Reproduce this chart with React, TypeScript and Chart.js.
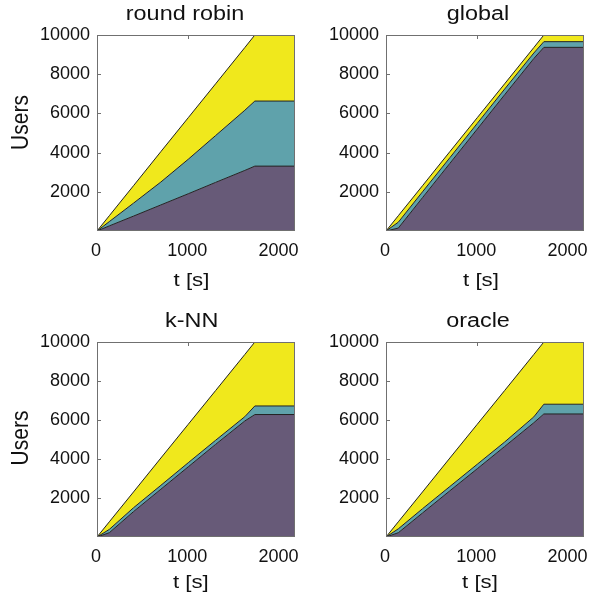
import React, { useEffect, useRef } from "react";
import { Chart, registerables } from "chart.js";

Chart.register(...registerables);

// ---------------- data ----------------
const TIME = [0, 135, 400, 700, 1000, 1300, 1620, 1730, 2170];
const X_MAX = 2170;
const X_TICKS = [0, 1000, 2000];
const Y_TICKS = [2000, 4000, 6000, 8000, 10000];
const Y_MAX = 10000;

const TITLES = ["round robin", "global", "k-NN", "oracle"];
const X_LABEL = "t [s]";
const Y_LABEL = "Users";

// round robin (stacked bands: bottom, middle, top)
const RR_PURPLE = [0, 260, 760, 1330, 1900, 2480, 3090, 3310, 3310];
const RR_TEAL = [0, 220, 660, 1170, 1760, 2390, 3070, 3320, 3320];
const RR_YELLOW = [0, 300, 890, 1550, 2120, 2640, 3200, 3370, 3370];

// global
const GL_PURPLE = [0, 150, 1700, 3450, 5200, 6950, 8800, 9370, 9370];
const GL_TEAL = [0, 300, 300, 290, 290, 290, 280, 290, 290];
const GL_YELLOW = [0, 330, 310, 310, 290, 270, 280, 340, 340];

// k-NN
const KNN_PURPLE = [0, 220, 1300, 2450, 3600, 4750, 5950, 6280, 6280];
const KNN_TEAL = [0, 170, 200, 200, 210, 210, 220, 440, 440];
const KNN_YELLOW = [0, 390, 810, 1400, 1970, 2550, 3190, 3280, 3280];

// oracle
const OR_PURPLE = [0, 220, 1230, 2370, 3500, 4640, 5860, 6310, 6310];
const OR_TEAL = [0, 200, 220, 220, 230, 230, 300, 500, 500];
const OR_YELLOW = [0, 360, 860, 1460, 2050, 2640, 3200, 3190, 3190];

// ---------------- styles ----------------
const PURPLE = "#675a78";
const TEAL = "#5fa2ab";
const YELLOW = "#f0e81c";
const EDGE = "#222222";
const FRAME = "#707070";
const FONT = "'Liberation Sans', Arial, Helvetica, sans-serif";
const STRETCH = 1.17;

type Panel = {
  title: string;
  series: number[][];
  left: number;
  top: number;
  w: number;
  h: number;
  yw: number;
  padTop: number;
  padRight: number;
  xh: number;
  titleX: number;
  titleY: number;
  xlX: number;
  xlY: number;
  ylabel: boolean;
  ylX: number;
  ylY: number;
};

const PANELS: Panel[] = [
  { title: TITLES[0], series: [RR_PURPLE, RR_TEAL, RR_YELLOW], left: 0, top: 0, w: 312, h: 300, yw: 97, padTop: 35, padRight: 17, xh: 69, titleX: 185, titleY: 19.5, xlX: 191.5, xlY: 285.5, ylabel: true, ylX: 21.7, ylY: 122.5 },
  { title: TITLES[1], series: [GL_PURPLE, GL_TEAL, GL_YELLOW], left: 296, top: 0, w: 293, h: 300, yw: 90, padTop: 35, padRight: 5, xh: 69, titleX: 182, titleY: 19.5, xlX: 185, xlY: 285.5, ylabel: false, ylX: 0, ylY: 0 },
  { title: TITLES[2], series: [KNN_PURPLE, KNN_TEAL, KNN_YELLOW], left: 0, top: 300, w: 312, h: 298, yw: 97, padTop: 42, padRight: 17, xh: 61, titleX: 191.7, titleY: 26.5, xlX: 190.8, xlY: 287.5, ylabel: true, ylX: 21, ylY: 138 },
  { title: TITLES[3], series: [OR_PURPLE, OR_TEAL, OR_YELLOW], left: 296, top: 300, w: 293, h: 298, yw: 90, padTop: 42, padRight: 5, xh: 61, titleX: 182, titleY: 26.5, xlX: 184, xlY: 287.5, ylabel: false, ylX: 0, ylY: 0 },
];

const COLORS = [PURPLE, TEAL, YELLOW];

function makeChart(canvas: HTMLCanvasElement, p: Panel) {
  const decor = {
    id: "decor",
    beforeDatasetsDraw(chart: any) {
      const { ctx, chartArea: a, scales } = chart;
      ctx.save();
      ctx.strokeStyle = FRAME;
      ctx.lineWidth = 1;
      const len = 4;
      for (const v of Y_TICKS) {
        const y = Math.round(scales.y.getPixelForValue(v)) + 0.5;
        ctx.beginPath();
        ctx.moveTo(a.left, y);
        ctx.lineTo(a.left + len, y);
        ctx.moveTo(a.right, y);
        ctx.lineTo(a.right - len, y);
        ctx.stroke();
      }
      for (const v of X_TICKS) {
        const x = Math.round(scales.x.getPixelForValue(v)) + 0.5;
        ctx.beginPath();
        ctx.moveTo(x, a.top);
        ctx.lineTo(x, a.top + len);
        ctx.moveTo(x, a.bottom);
        ctx.lineTo(x, a.bottom - len);
        ctx.stroke();
      }
      ctx.restore();
    },
    afterDraw(chart: any) {
      const { ctx, chartArea: a } = chart;
      ctx.save();
      ctx.strokeStyle = FRAME;
      ctx.lineWidth = 1;
      ctx.strokeRect(Math.round(a.left) + 0.5, Math.round(a.top) + 0.5, Math.round(a.right - a.left) - 1, Math.round(a.bottom - a.top) - 1);
      ctx.restore();

      ctx.save();
      ctx.fillStyle = "#111";
      ctx.textAlign = "center";
      ctx.textBaseline = "alphabetic";
      ctx.translate(p.titleX, p.titleY);
      ctx.scale(STRETCH, 1);
      ctx.font = `20px ${FONT}`;
      ctx.fillText(p.title, 0, 0);
      ctx.restore();

      ctx.save();
      ctx.fillStyle = "#111";
      ctx.textAlign = "center";
      ctx.textBaseline = "alphabetic";
      ctx.translate(p.xlX, p.xlY);
      ctx.scale(STRETCH, 1);
      ctx.font = `19px ${FONT}`;
      ctx.fillText(X_LABEL, 0, 0);
      ctx.restore();

      if (p.ylabel) {
        ctx.save();
        ctx.fillStyle = "#111";
        ctx.textAlign = "center";
        ctx.textBaseline = "middle";
        ctx.translate(p.ylX, p.ylY);
        ctx.rotate(-Math.PI / 2);
        ctx.scale(1, STRETCH);
        ctx.font = `21px ${FONT}`;
        ctx.fillText(Y_LABEL, 0, 0);
        ctx.restore();
      }
    },
  };

  return new Chart(canvas, {
    type: "line",
    data: {
      datasets: p.series.map((s, i) => ({
        label: String(i),
        data: TIME.map((t, k) => ({ x: t, y: s[k] })),
        fill: i === 0 ? "origin" : "-1",
        backgroundColor: COLORS[i],
        borderColor: EDGE,
        borderWidth: 1,
        pointRadius: 0,
        tension: 0,
      })),
    },
    options: {
      animation: false,
      responsive: false,
      devicePixelRatio: 1,
      layout: { padding: { left: 0, right: p.padRight, top: p.padTop, bottom: 0 }, autoPadding: false },
      plugins: { legend: { display: false }, tooltip: { enabled: false }, title: { display: false } },
      scales: {
        x: {
          type: "linear",
          min: 0,
          max: X_MAX,
          grid: { display: false, drawTicks: false },
          border: { display: false },
          ticks: { padding: 9, labelOffset: -1, color: "#111", font: { family: FONT, size: 18 }, maxRotation: 0, autoSkip: false, callback: (v: any) => String(v) },
          afterBuildTicks: (s: any) => {
            s.ticks = X_TICKS.map((v) => ({ value: v }));
          },
          afterFit: (s: any) => {
            s.height = p.xh;
            s.paddingLeft = 0;
            s.paddingRight = 0;
          },
        },
        y: {
          type: "linear",
          stacked: true,
          min: 0,
          max: Y_MAX,
          grid: { display: false, drawTicks: false },
          border: { display: false },
          ticks: { padding: 7, color: "#111", font: { family: FONT, size: 18 }, autoSkip: false, callback: (v: any) => String(v) },
          afterBuildTicks: (s: any) => {
            s.ticks = Y_TICKS.map((v) => ({ value: v }));
          },
          afterFit: (s: any) => {
            s.width = p.yw;
            s.paddingTop = 0;
            s.paddingBottom = 0;
          },
        },
      },
    } as any,
    plugins: [decor],
  });
}

function PanelChart({ p }: { p: Panel }) {
  const ref = useRef<HTMLCanvasElement | null>(null);
  useEffect(() => {
    if (!ref.current) return;
    const c = makeChart(ref.current, p);
    return () => c.destroy();
  }, [p]);
  return (
    <canvas
      ref={ref}
      width={p.w}
      height={p.h}
      style={{ position: "absolute", left: p.left, top: p.top, width: p.w, height: p.h }}
    />
  );
}

export default function App() {
  return (
    <div style={{ position: "absolute", left: 0, top: 0, width: 589, height: 598, background: "#fff" }}>
      {PANELS.map((p) => (
        <PanelChart key={p.title} p={p} />
      ))}
    </div>
  );
}
